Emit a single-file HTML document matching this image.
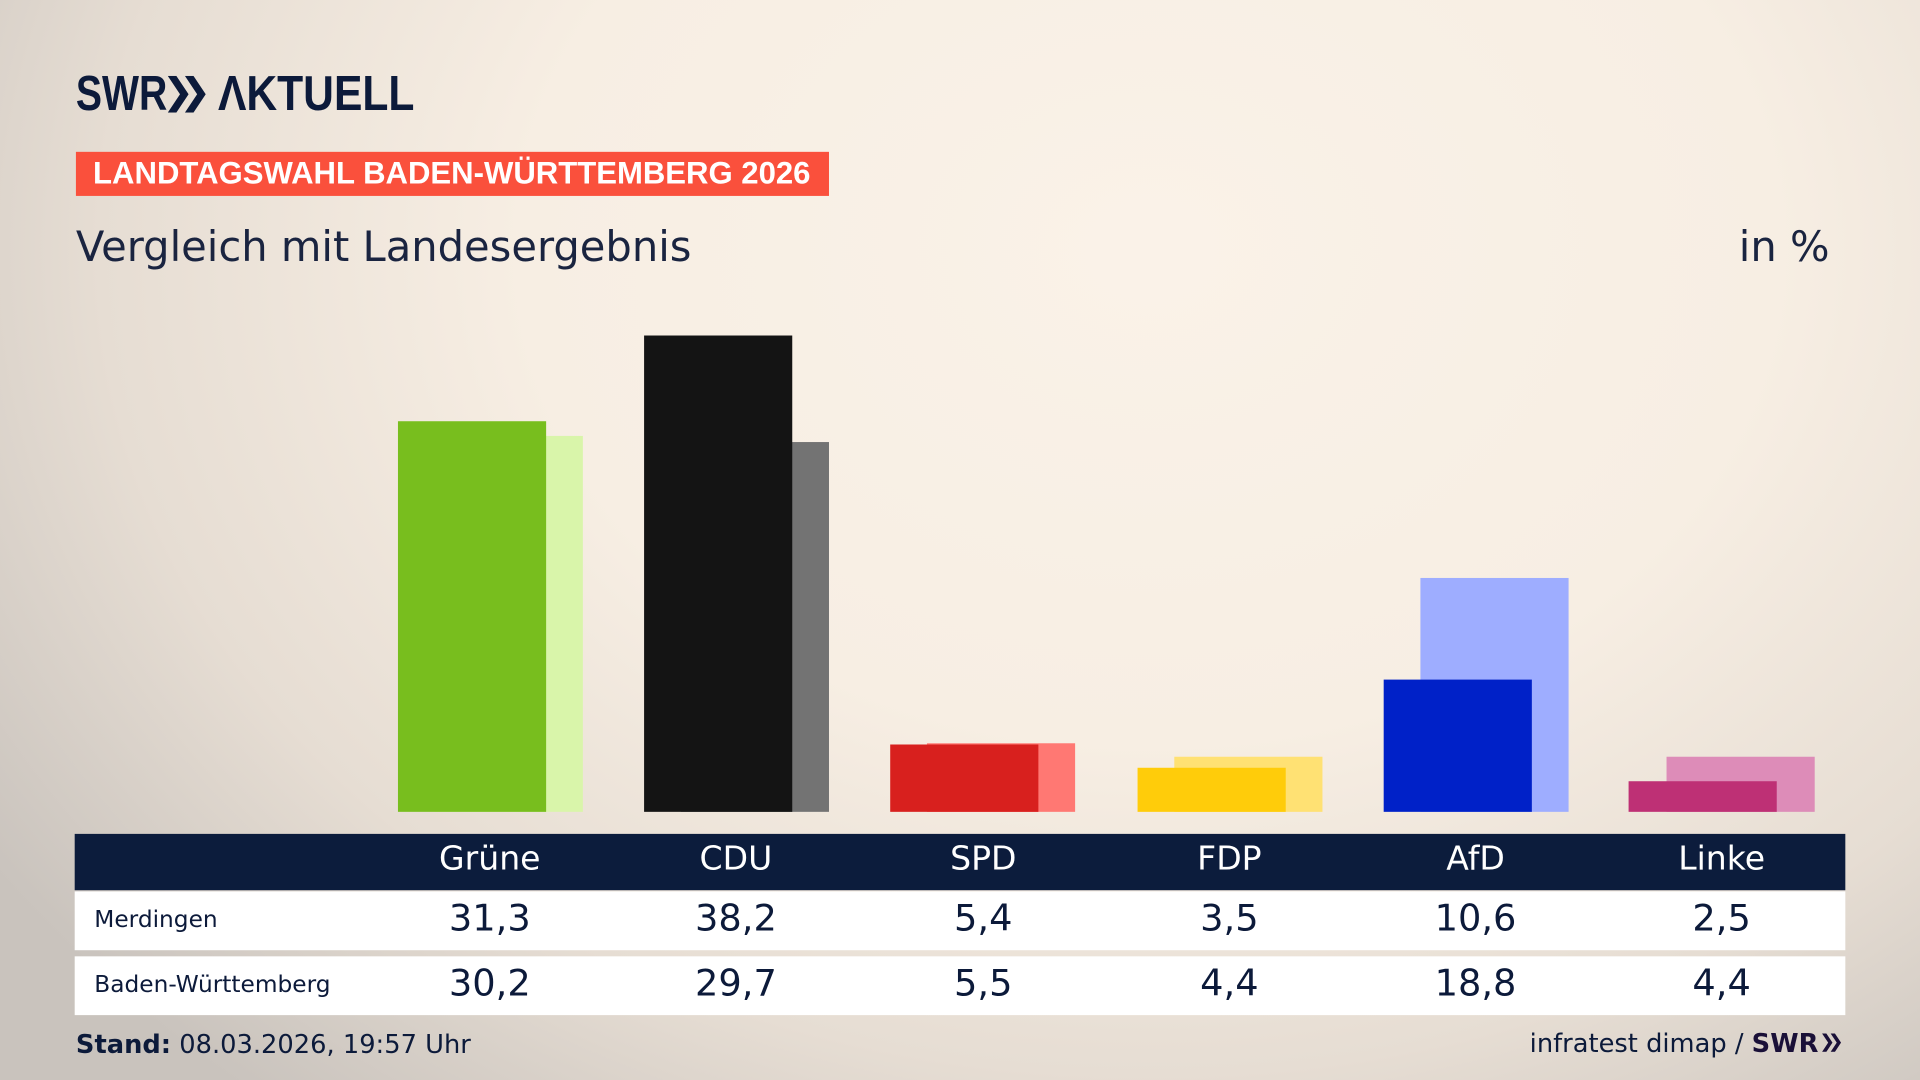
<!DOCTYPE html>
<html><head><meta charset="utf-8"><style>
html,body{margin:0;padding:0;width:1920px;height:1080px;overflow:hidden}
body{background:radial-gradient(ellipse 1400px 1100px at 1150px 250px,#faf2e8 0%,#f7eee3 45%,#e6ddd3 75%,#c9c3bd 100%);}
#w{position:absolute;left:0;top:0;width:1568px;height:882px;transform:scale(1.2245);transform-origin:0 0;font-family:"DejaVu Sans","Liberation Sans",sans-serif;color:#0c1a3a}
.a{position:absolute}
.logo{left:62px;top:55px;font-family:"Liberation Sans Narrow","Liberation Sans",sans-serif;font-weight:bold;font-size:40px;color:#0c1a3a;white-space:nowrap;line-height:44px}
.ban{left:62px;top:124px;width:615px;height:36px;background:#fa503c;color:#fff;font-weight:bold;font-size:25.4px;line-height:37px;text-indent:14px;white-space:nowrap;font-family:"Liberation Sans",sans-serif}
.sub{top:182px;font-size:34px;color:#1a2440;white-space:nowrap}
.b{position:absolute;width:121px}
.hdr{left:61px;top:681px;width:1446px;height:46px;background:#0c1c3c}
.row{left:61px;width:1446px;height:48px;background:#fff}
.c{position:absolute;width:200px;margin-left:-100px;text-align:center}
.h{color:#fff;font-size:27px;top:686px}
.v{font-size:30px;color:#0c1a3a}
.lbl{left:77px;font-size:19px;color:#0c1a3a}
</style></head><body><div id="w">
<div class="a logo"><span style="display:inline-block;transform:scaleX(0.8);transform-origin:0 0">SWR</span></div>
<svg class="a" style="left:137px;top:62px" width="34" height="30" viewBox="0 0 34 30"><polygon points="0,0 7,0 17,15 7,30 0,30 10,15" fill="#0c1a3a"/><polygon points="14,0 21,0 31,15 21,30 14,30 24,15" fill="#0c1a3a"/></svg>
<div class="a logo" style="left:178px"><span style="display:inline-block;transform:scaleX(0.87);transform-origin:0 0">ΛKTUELL</span></div>
<div class="a ban">LANDTAGSWAHL BADEN-WÜRTTEMBERG 2026</div>
<div class="a sub" style="left:62px">Vergleich mit Landesergebnis</div>
<div class="a sub" style="left:1420px">in %</div>

<div class="b" style="left:355px;top:356px;height:307px;background:#d9f5aa"></div>
<div class="b" style="left:325px;top:344px;height:319px;background:#78be1e"></div>
<div class="b" style="left:556px;top:361px;height:302px;background:#737373"></div>
<div class="b" style="left:526px;top:274px;height:389px;background:#141414"></div>
<div class="b" style="left:757px;top:607px;height:56px;background:#ff7873"></div>
<div class="b" style="left:727px;top:608px;height:55px;background:#d8201e"></div>
<div class="b" style="left:959px;top:618px;height:45px;background:#ffe173"></div>
<div class="b" style="left:929px;top:627px;height:36px;background:#ffcc0a"></div>
<div class="b" style="left:1160px;top:472px;height:191px;background:#9eadff"></div>
<div class="b" style="left:1130px;top:555px;height:108px;background:#0021c8"></div>
<div class="b" style="left:1361px;top:618px;height:45px;background:#dd8cb8"></div>
<div class="b" style="left:1330px;top:638px;height:25px;background:#be3075"></div>

<div class="a hdr"></div>
<div class="a row" style="top:728px"></div>
<div class="a row" style="top:781px"></div>
<div class="c h" style="left:400px">Grüne</div>
<div class="c h" style="left:601px">CDU</div>
<div class="c h" style="left:803px">SPD</div>
<div class="c h" style="left:1004px">FDP</div>
<div class="c h" style="left:1205px">AfD</div>
<div class="c h" style="left:1406px">Linke</div>
<div class="a lbl" style="top:740px">Merdingen</div>
<div class="a lbl" style="top:793px">Baden-Württemberg</div>
<div class="c v" style="top:733px;left:400px">31,3</div>
<div class="c v" style="top:733px;left:601px">38,2</div>
<div class="c v" style="top:733px;left:803px">5,4</div>
<div class="c v" style="top:733px;left:1004px">3,5</div>
<div class="c v" style="top:733px;left:1205px">10,6</div>
<div class="c v" style="top:733px;left:1406px">2,5</div>
<div class="c v" style="top:786px;left:400px">30,2</div>
<div class="c v" style="top:786px;left:601px">29,7</div>
<div class="c v" style="top:786px;left:803px">5,5</div>
<div class="c v" style="top:786px;left:1004px">4,4</div>
<div class="c v" style="top:786px;left:1205px">18,8</div>
<div class="c v" style="top:786px;left:1406px">4,4</div>

<div class="a" style="left:62px;top:841px;font-size:21px;white-space:nowrap"><b>Stand:</b> 08.03.2026, 19:57 Uhr</div>
<div class="a" style="right:62px;top:840px;font-size:21px;white-space:nowrap">infratest dimap / <b style="color:#1a1038">SWR</b><svg width="19" height="15" viewBox="0 0 34 30" style="margin-left:2px"><polygon points="0,0 7,0 17,15 7,30 0,30 10,15" fill="#1a1038"/><polygon points="14,0 21,0 31,15 21,30 14,30 24,15" fill="#1a1038"/></svg></div>
</div></body></html>
